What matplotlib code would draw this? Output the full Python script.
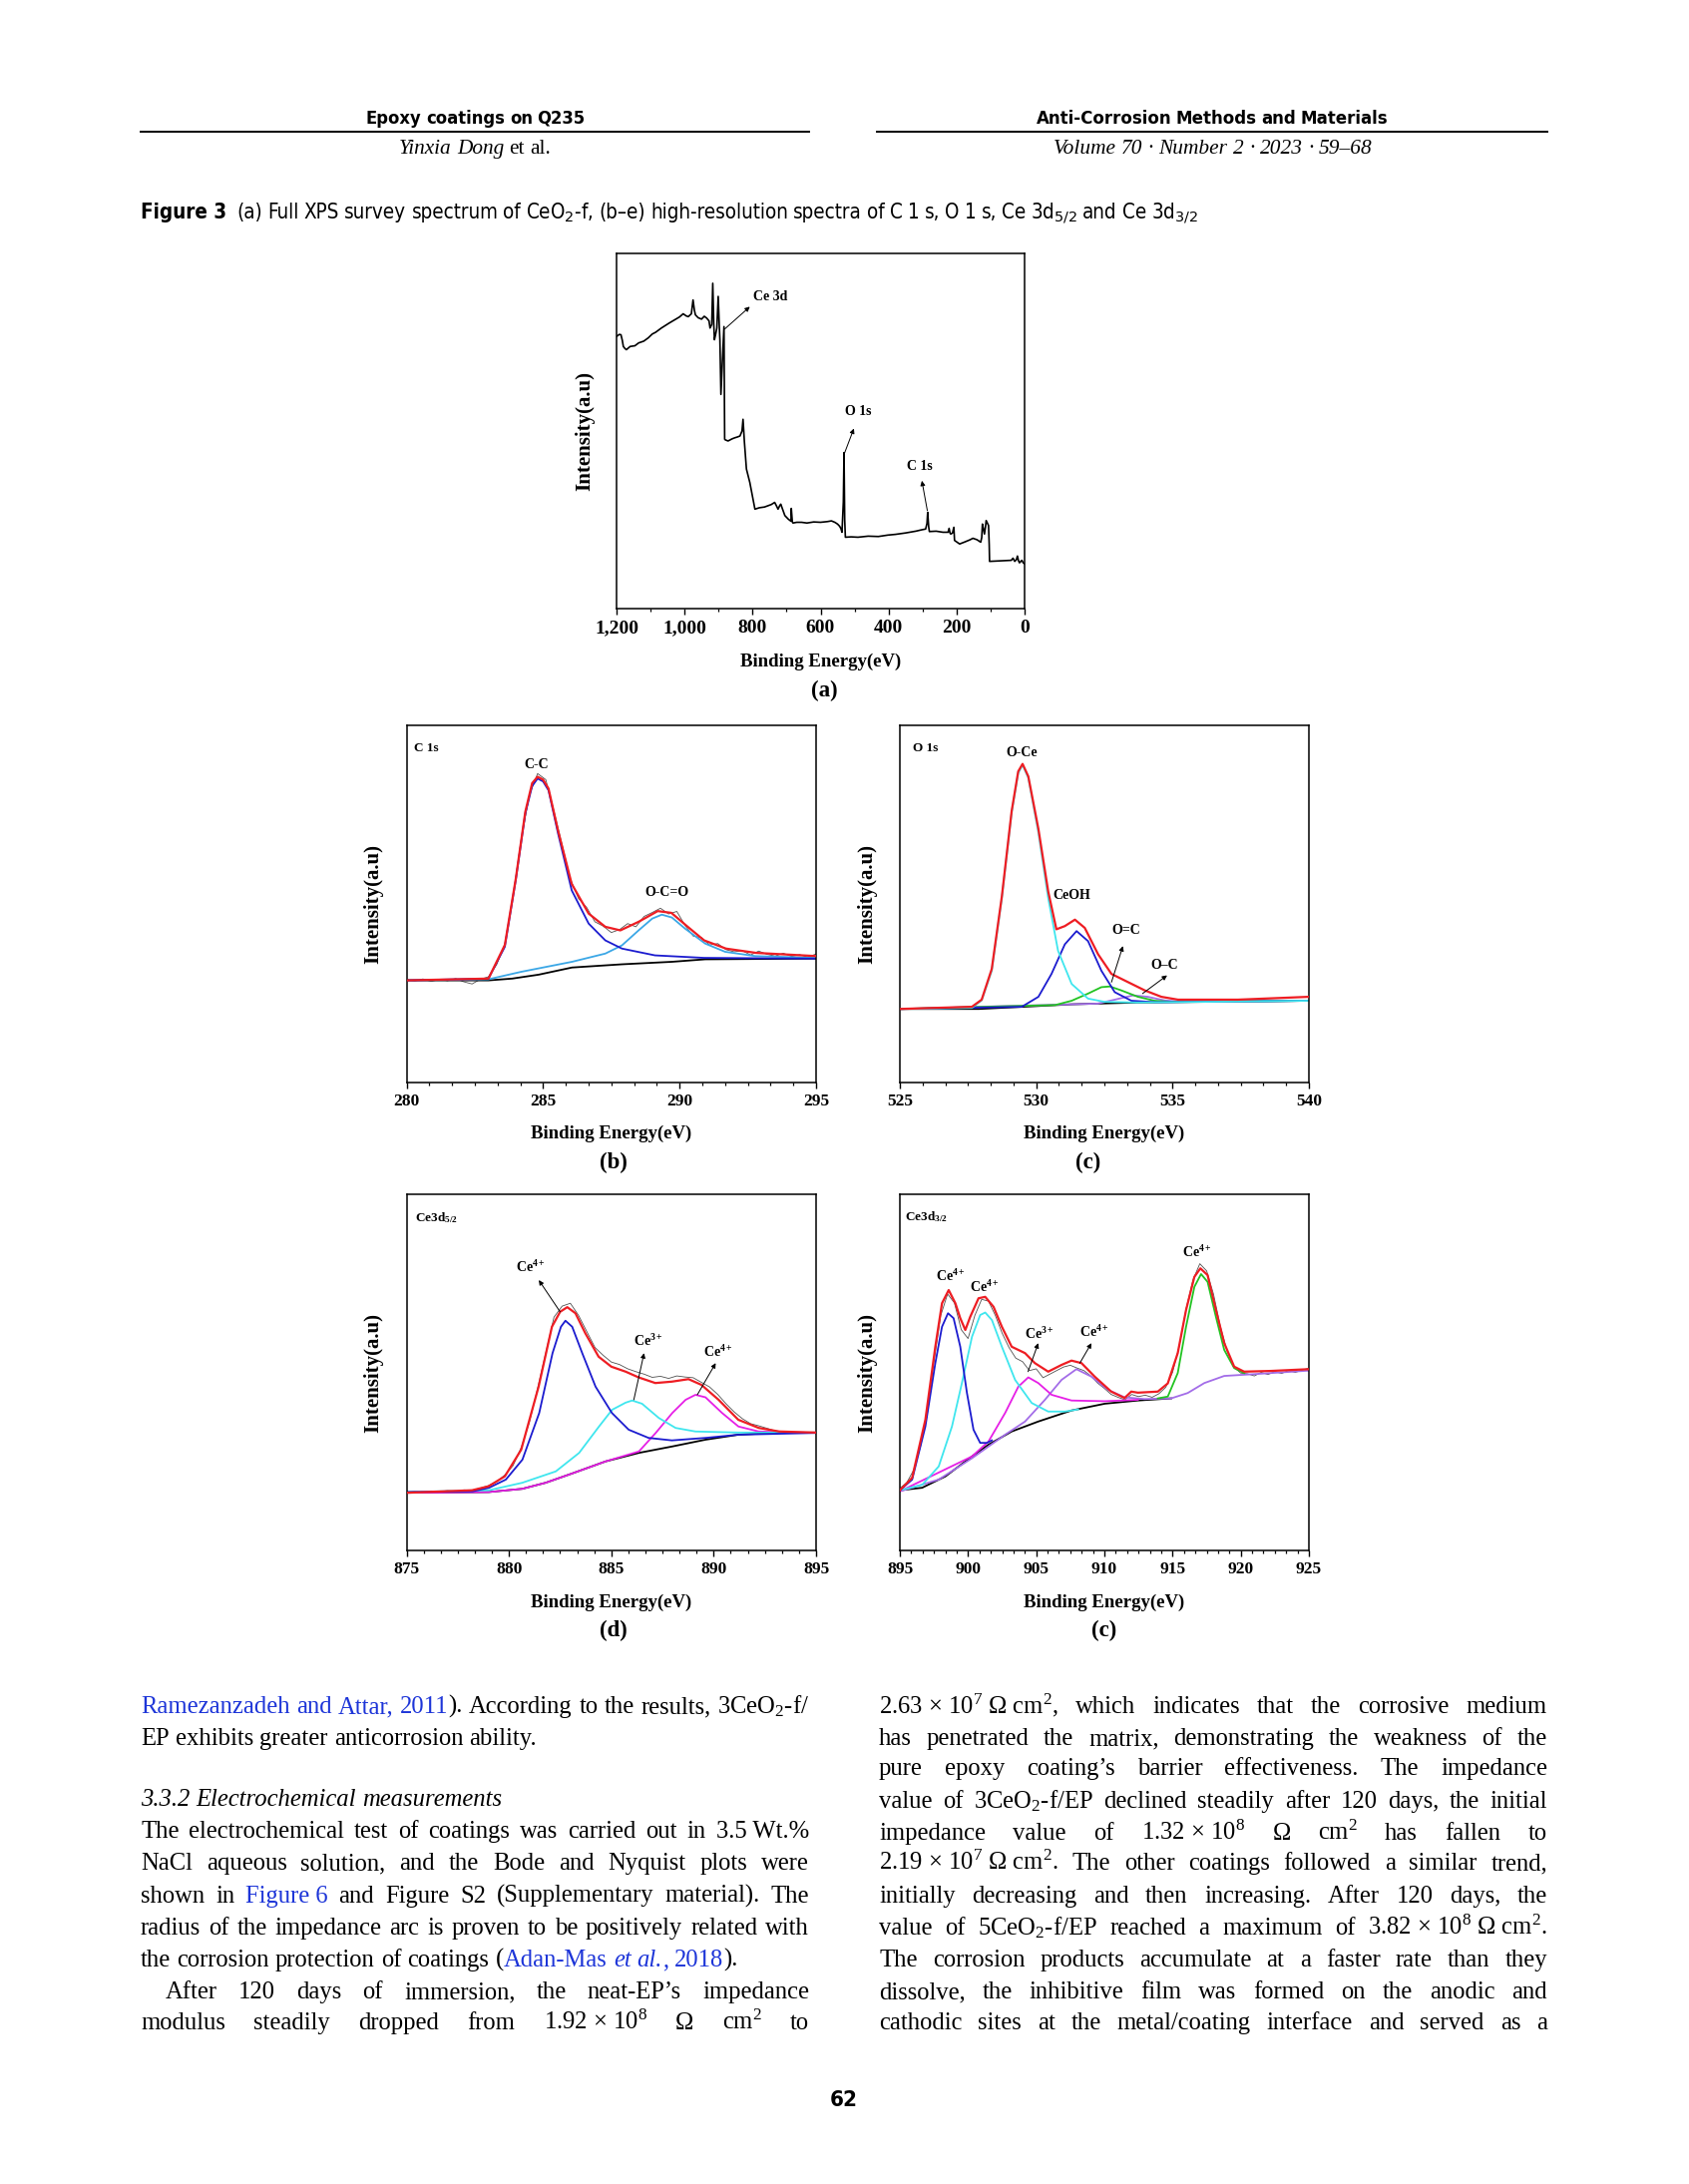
#!/usr/bin/env python
# coding: utf-8
# %%
import matplotlib
matplotlib.use("Agg")
import matplotlib.pyplot as plt
from matplotlib.lines import Line2D
from matplotlib.ticker import MultipleLocator, FuncFormatter

# %% data -- intensities in a.u. (0-100 = panel height), binding energy in eV
survey = [(1200, 76.6), (1192, 77.2), (1187, 77.1), (1183, 75.5), (1180, 73.8), (1175, 73.2), (1171, 72.9),
          (1160, 73.8), (1146, 74.0), (1135, 74.8), (1120, 75.3), (1107, 76.2), (1095, 77.3), (1085, 77.8),
          (1068, 79.0), (1055, 79.8), (1045, 80.4), (1029, 81.3), (1015, 82.1), (1004, 83.0), (995, 82.4),
          (989, 82.2), (980, 83.0), (975, 86.9), (971, 84.0), (968, 82.7), (960, 81.9), (950, 81.5),
          (942, 82.3), (935, 81.8), (928, 81.0), (925, 79.0), (920, 80.0), (917, 91.6), (914, 80.0),
          (912, 75.7), (908, 77.5), (905, 79.0), (901, 87.9), (898, 80.0), (896, 75.7), (893, 60.3),
          (889, 69.2), (886, 75.0), (884, 79.4), (882, 47.7), (880, 47.5), (872, 47.2), (860, 47.8),
          (852, 48.1), (845, 48.3), (837, 48.6), (831, 50.0), (828, 53.3), (824, 47.0), (818, 39.3),
          (812, 37.0), (808, 35.5), (800, 31.5), (793, 28.0), (780, 28.4), (765, 28.6), (754, 29.0),
          (745, 29.3), (735, 29.9), (730, 29.0), (725, 28.0), (720, 29.0), (717, 29.4), (710, 27.5),
          (705, 26.2), (695, 25.2), (690, 24.8), (687, 24.6), (686, 28.2), (683, 24.4), (681, 24.1),
          (670, 24.3), (656, 24.3), (640, 24.1), (620, 24.4), (600, 24.3), (580, 24.5), (568, 24.7),
          (558, 24.3), (550, 23.8), (544, 23.2), (540, 22.5), (537, 21.5), (533, 30.0), (531, 43.9),
          (529, 25.0), (527, 20.1), (510, 20.2), (490, 20.1), (460, 20.4), (430, 20.3), (402, 20.7),
          (380, 20.9), (350, 21.3), (320, 21.8), (302, 22.2), (291, 22.4), (287, 24.0), (285, 27.1),
          (282, 23.0), (280, 21.7), (260, 21.8), (240, 21.5), (225, 21.5), (222, 22.6), (219, 21.2),
          (217, 21.0), (212, 21.3), (208, 22.9), (206, 19.2), (200, 18.8), (191, 18.2), (175, 18.8),
          (160, 19.4), (152, 19.8), (140, 19.4), (129, 18.7), (126, 20.0), (124, 23.8), (121, 22.5),
          (118, 21.0), (115, 23.0), (113, 24.8), (109, 24.0), (106, 23.4), (104, 18.0), (103, 13.3),
          (80, 13.4), (60, 13.5), (39, 13.6), (34, 14.2), (29, 13.3), (24, 13.8), (21, 14.8),
          (18, 13.5), (15, 12.9), (8, 13.6), (4, 12.9), (0, 12.6)]

# C 1s
c1s_raw_x = [280.0 + 0.3 * i for i in range(51)]
c1s_raw_y = [28.8, 28.4, 29.0, 28.3, 28.9, 28.5, 29.1, 28.2, 27.6, 28.9, 29.6, 33.0, 38.8, 52.0, 68.0,
             80.5, 86.5, 84.8, 76.0, 66.5, 57.0, 51.5, 49.0, 45.0, 43.8, 42.0, 42.8, 44.5, 43.6, 46.5,
             47.6, 48.8, 47.2, 47.9, 44.0, 41.0, 40.6, 38.5, 38.9, 37.2, 36.6, 36.9, 35.7, 36.8, 35.9,
             35.4, 36.2, 35.3, 35.8, 35.1, 36.0]
c1s_bg = [(280.0, 28.6), (283.0, 28.6), (283.87, 29.1), (284.84, 30.2), (286.06, 32.2), (287.89, 33.1),
          (289.72, 33.8), (290.94, 34.5), (295.0, 34.7)]
c1s_cc = [(280.0, 28.6), (283.0, 29.1), (283.6, 38.0), (284.0, 56.6), (284.35, 75.3), (284.6, 83.0),
          (284.8, 85.1), (285.0, 84.3), (285.2, 81.8), (285.55, 69.7), (286.05, 53.8), (286.67, 44.5),
          (287.28, 39.8), (287.89, 37.5), (289.1, 35.6), (290.9, 34.9), (295.0, 34.7)]
c1s_oco = [(280.0, 28.6), (283.0, 28.9), (284.2, 31.0), (286.06, 33.8), (287.28, 36.1), (287.89, 38.4),
           (288.5, 42.6), (289.0, 45.9), (289.35, 47.0), (289.72, 46.2), (290.2, 43.1), (290.94, 38.9),
           (291.67, 36.6), (292.77, 35.4), (295.0, 34.9)]
c1s_fit = [(280.0, 28.6), (283.0, 29.1), (283.6, 38.5), (284.0, 57.0), (284.35, 75.8), (284.6, 83.8),
           (284.8, 85.6), (285.0, 84.8), (285.2, 82.3), (285.55, 70.5), (286.05, 55.6), (286.67, 47.3),
           (287.28, 43.6), (287.83, 42.6), (288.5, 45.0), (289.2, 48.0), (289.7, 47.5), (290.3, 43.6),
           (290.9, 39.8), (291.7, 37.5), (292.8, 36.3), (295.0, 35.4)]

# O 1s
o1s_bg = [(525.0, 20.6), (527.9, 20.6), (529.5, 21.2), (531.3, 21.9), (533.7, 22.4), (540.0, 22.9)]
o1s_oce = [(525.0, 20.6), (527.64, 20.9), (528.0, 23.0), (528.37, 31.3), (528.74, 51.6), (529.1, 75.6),
           (529.34, 86.6), (529.5, 88.9), (529.71, 85.3), (530.08, 70.0), (530.44, 51.6), (530.8, 36.9),
           (531.3, 27.6), (531.9, 23.5), (532.5, 22.6), (533.7, 22.4), (540.0, 22.9)]
o1s_ceoh = [(525.0, 20.6), (529.47, 21.2), (530.08, 24.0), (530.56, 30.4), (531.05, 38.7), (531.48, 42.4),
            (531.9, 39.6), (532.39, 31.3), (532.88, 25.3), (533.49, 22.9), (534.34, 22.5), (540.0, 22.9)]
o1s_oc2 = [(525.0, 20.6), (530.7, 21.7), (531.3, 22.9), (531.9, 24.9), (532.39, 26.7), (532.7, 26.9),
           (533.12, 25.8), (533.73, 24.0), (534.34, 22.9), (534.95, 22.6), (540.0, 22.9)]
o1s_oc1 = [(525.0, 20.6), (532.26, 22.1), (532.88, 23.2), (533.55, 24.4), (534.09, 24.0), (534.7, 23.0),
           (535.31, 22.6), (540.0, 22.9)]
o1s_fit = [(525.0, 20.6), (527.64, 21.2), (528.0, 23.2), (528.37, 31.8), (528.74, 52.1), (529.1, 76.0),
           (529.34, 87.1), (529.5, 89.2), (529.71, 85.7), (530.08, 71.0), (530.44, 53.5), (530.74, 42.9),
           (531.05, 43.8), (531.42, 45.6), (531.78, 43.3), (532.27, 35.9), (532.76, 30.4), (533.37, 28.1),
           (533.98, 25.8), (534.59, 24.0), (535.2, 23.2), (537.4, 23.2), (540.0, 24.0)]

# Ce 3d5/2
ce52_raw_x = [875.0 + 0.4 * i for i in range(51)]
ce52_raw_y = [16.4, 16.6, 16.3, 16.7, 16.5, 16.8, 16.6, 17.0, 16.9, 17.5, 18.2, 19.3, 21.2, 23.8, 28.9,
              36.0, 45.5, 55.5, 65.5, 68.6, 69.4, 66.0, 61.5, 57.0, 54.8, 52.9, 52.2, 51.0, 50.2, 49.5,
              48.6, 48.9, 48.3, 49.0, 48.7, 48.5, 47.2, 45.9, 43.8, 41.2, 38.9, 37.0, 35.6, 35.0, 34.3,
              33.6, 33.3, 33.2, 33.1, 33.2, 33.1]
ce52_bg = [(875.0, 16.2), (879.02, 16.4), (880.65, 17.3), (881.79, 19.0), (883.08, 21.6), (884.72, 25.0),
           (886.35, 27.4), (887.98, 29.2), (889.6, 31.1), (891.21, 32.5), (892.85, 33.0), (895.0, 33.1)]
ce52_p1 = [(875.0, 16.4), (878.23, 16.6), (879.03, 17.6), (879.85, 19.9), (880.66, 25.5), (881.48, 38.6),
           (882.13, 55.4), (882.54, 62.8), (882.76, 64.5), (883.09, 62.8), (883.58, 55.4), (884.23, 46.0),
           (885.03, 38.6), (885.85, 33.9), (886.82, 31.6), (887.96, 30.9), (889.6, 31.6), (891.2, 32.5),
           (895.0, 33.0)]
ce52_p2 = [(875.0, 16.4), (879.02, 16.9), (880.65, 19.0), (882.29, 22.2), (883.43, 27.4), (884.4, 34.8),
           (885.04, 39.5), (885.7, 41.5), (886.02, 42.1), (886.5, 41.2), (887.32, 37.2), (888.14, 34.4),
           (889.11, 33.4), (891.21, 33.1), (895.0, 33.1)]
ce52_p3 = [(875.0, 16.2), (879.02, 16.4), (880.65, 17.3), (881.79, 19.0), (883.08, 21.6), (884.72, 25.0),
           (886.35, 27.8), (887.17, 33.0), (887.98, 38.6), (888.63, 42.3), (889.11, 43.7), (889.6, 43.0),
           (890.41, 38.6), (891.21, 34.8), (892.2, 33.4), (895.0, 33.0)]
ce52_fit = [(875.0, 16.2), (878.2, 16.9), (879.0, 18.0), (879.8, 20.8), (880.6, 28.3), (881.45, 46.0),
            (882.1, 62.8), (882.5, 67.0), (882.85, 68.3), (883.25, 66.6), (883.73, 61.0), (884.38, 54.4),
            (885.0, 51.6), (885.7, 50.2), (886.33, 48.6), (887.15, 47.0), (887.96, 47.4), (888.77, 48.1),
            (889.4, 46.5), (890.24, 42.3), (891.2, 36.7), (892.2, 34.4), (893.2, 33.4), (895.0, 33.1)]

# Ce 3d3/2
ce32_raw_x = [895.0 + 0.5 * i for i in range(61)]
ce32_raw_y = [17.5, 19.0, 22.5, 29.0, 38.0, 53.0, 66.0, 72.0, 69.5, 62.0, 59.5, 66.0, 70.5, 70.0, 66.0,
              61.0, 57.0, 54.0, 53.0, 50.5, 51.0, 48.5, 49.5, 50.5, 51.5, 52.0, 51.2, 50.5, 49.0, 47.0,
              45.5, 43.8, 43.0, 42.3, 43.8, 43.2, 43.6, 43.0, 44.0, 45.8, 50.0, 57.5, 68.0, 76.0, 80.5,
              78.5, 72.0, 63.0, 56.0, 51.5, 49.8, 49.6, 49.0, 50.0, 49.4, 50.2, 49.7, 50.5, 50.0, 50.6, 51.2]
ce32_bg = [(895.0, 16.9), (896.63, 17.6), (898.34, 20.8), (900.29, 26.4), (901.5, 29.7), (903.2, 33.4),
           (905.15, 36.2), (907.59, 39.3), (910.03, 41.2), (912.46, 42.1), (914.9, 42.7)]
ce32_p1 = [(895.0, 16.9), (895.9, 19.9), (896.87, 34.8), (897.6, 52.6), (898.09, 62.8), (898.53, 66.6),
           (898.94, 65.2), (899.43, 57.2), (899.92, 44.2), (900.4, 33.9), (900.89, 30.2), (901.38, 30.2),
           (901.75, 30.9)]
ce32_p2 = [(895.0, 16.9), (896.63, 18.4), (897.85, 23.6), (898.82, 34.8), (899.55, 47.0), (900.29, 60.0),
           (900.89, 66.1), (901.26, 66.8), (901.75, 64.7), (902.48, 57.2), (903.45, 47.9), (904.67, 41.4),
           (905.88, 39.0), (907.1, 39.0), (908.08, 39.6)]
ce32_p3 = [(895.0, 16.6), (900.29, 26.4), (901.5, 30.6), (902.72, 38.6), (903.69, 46.0), (904.42, 48.6),
           (905.15, 47.0), (906.13, 43.7), (907.59, 42.1), (910.03, 41.9), (912.46, 42.3)]
ce32_p4 = [(895.0, 16.6), (897.85, 19.9), (900.29, 25.9), (902.72, 32.5), (904.18, 36.2), (905.64, 42.3),
           (906.86, 47.9), (907.95, 50.9), (909.05, 48.8), (910.27, 45.1), (911.48, 43.0), (912.95, 42.5),
           (914.9, 42.7), (916.11, 44.2), (917.33, 47.0), (918.79, 49.0), (920.98, 49.5), (925.0, 50.5)]
ce32_p5 = [(913.92, 42.7), (914.65, 43.2), (915.38, 49.8), (915.99, 62.8), (916.6, 74.0), (917.09, 77.6),
           (917.57, 75.4), (918.18, 65.6), (918.79, 56.3), (919.52, 51.2), (920.25, 49.8)]
ce32_fit = [(895.0, 16.9), (895.9, 20.4), (896.87, 36.7), (897.6, 57.2), (898.09, 69.4), (898.58, 73.1),
            (899.07, 69.4), (899.43, 65.2), (899.8, 61.9), (900.16, 65.6), (900.77, 70.8), (901.26, 71.2),
            (901.87, 68.4), (902.48, 62.8), (903.2, 57.2), (904.18, 55.4), (904.9, 52.6), (905.88, 50.2),
            (906.86, 52.1), (907.59, 53.3), (908.32, 52.6), (909.29, 48.8), (910.5, 44.6), (911.48, 42.8),
            (911.97, 44.6), (912.46, 44.3), (913.92, 44.6), (914.65, 46.9), (915.38, 55.4), (915.99, 67.5),
            (916.6, 76.8), (917.04, 79.2), (917.57, 77.3), (918.18, 67.5), (918.79, 58.2), (919.52, 51.6),
            (920.25, 50.2), (922.2, 50.4), (925.0, 50.9)]

# page text ( <..> = link blue, *..* = italic, #..# = bold, ~ = fixed space )
left_col = [("<Ramezanzadeh and Attar, 2011>). According to the results, 3CeO$_2$-f/", 1710, True, 0),
            ("EP exhibits greater anticorrosion ability.", 1742, False, 0),
            ("*3.3.2 Electrochemical measurements*", 1803, False, 0),
            ("The electrochemical test of coatings was carried out in 3.5~Wt.%", 1835, True, 0),
            ("NaCl aqueous solution, and the Bode and Nyquist plots were", 1867, True, 0),
            ("shown in <Figure~6> and Figure S2 (Supplementary material). The", 1900, True, 0),
            ("radius of the impedance arc is proven to be positively related with", 1932, True, 0),
            ("the corrosion protection of coatings (<Adan-Mas *et al.*, 2018>).", 1964, False, 0),
            ("After 120 days of immersion, the neat-EP’s impedance", 1996, True, 25),
            ("modulus steadily dropped from 1.92~×~10$^8$ Ω cm$^2$ to", 2027, True, 0)]
right_col = [("2.63~×~10$^7$~Ω~cm$^2$, which indicates that the corrosive medium", 1710, True, 0),
             ("has penetrated the matrix, demonstrating the weakness of the", 1742, True, 0),
             ("pure epoxy coating’s barrier effectiveness. The impedance", 1772, True, 0),
             ("value of 3CeO$_2$-f/EP declined steadily after 120 days, the initial", 1805, True, 0),
             ("impedance value of 1.32~×~10$^8$ Ω cm$^2$ has fallen to", 1837, True, 0),
             ("2.19~×~10$^7$~Ω~cm$^2$. The other coatings followed a similar trend,", 1867, True, 0),
             ("initially decreasing and then increasing. After 120 days, the", 1900, True, 0),
             ("value of 5CeO$_2$-f/EP reached a maximum of 3.82~×~10$^8$~Ω~cm$^2$.", 1932, True, 0),
             ("The corrosion products accumulate at a faster rate than they", 1964, True, 0),
             ("dissolve, the inhibitive film was formed on the anodic and", 1996, True, 0),
             ("cathodic sites at the metal/coating interface and served as a", 2027, True, 0)]

# %% page setup
W, H = 1693, 2189
SERIF = ["Liberation Serif", "DejaVu Serif"]
SANS = ["DejaVu Sans"]
BLUE = "#1d35d8"
plt.rcParams["mathtext.fontset"] = "custom"
plt.rcParams["mathtext.rm"] = "Liberation Serif"
plt.rcParams["mathtext.it"] = "Liberation Serif:italic"
plt.rcParams["mathtext.bf"] = "Liberation Serif:bold"
plt.rcParams["mathtext.sf"] = "DejaVu Sans"
plt.rcParams["font.family"] = SERIF

fig = plt.figure(figsize=(W / 100, H / 100), dpi=100)
fig.patch.set_facecolor("white")
R = fig.canvas.get_renderer()


def fx(x):
    return x / W


def fy(y):
    return 1 - y / H


def parse(line):
    words = []
    blue = ital = bold = False
    for raw in line.split(" "):
        pieces, buf = [], ""
        for ch in raw:
            if ch in "<>*#":
                if buf:
                    pieces.append((buf.replace("~", " "), blue, ital, bold))
                    buf = ""
                if ch == "<":
                    blue = True
                elif ch == ">":
                    blue = False
                elif ch == "*":
                    ital = not ital
                else:
                    bold = not bold
            else:
                buf += ch
        if buf:
            pieces.append((buf.replace("~", " "), blue, ital, bold))
        words.append(pieces)
    return words


def build(line, y, family, stretch="normal"):
    out = []
    for pieces in parse(line):
        ts = []
        for s, blue, ital, bold in pieces:
            ts.append(fig.text(0, fy(y), s, color=BLUE if blue else "black",
                               style="italic" if ital else "normal",
                               weight="bold" if bold else "normal", fontstretch=stretch,
                               family=family, fontsize=20, va="baseline", ha="left"))
        out.append(ts)
    return out


def natural(words, size):
    for ts in words:
        for t in ts:
            t.set_fontsize(size)
    tot = sum(t.get_window_extent(R).width for ts in words for t in ts)
    return tot + (len(words) - 1) * size * 100 / 72 * 0.25


def place(words, x0, size, x1=None):
    for ts in words:
        for t in ts:
            t.set_fontsize(size)
    ws = [[t.get_window_extent(R).width for t in ts] for ts in words]
    tot = sum(sum(w) for w in ws)
    gap = size * 100 / 72 * 0.25
    if x1 is not None and len(words) > 1:
        gap = (x1 - x0 - tot) / (len(words) - 1)
    x = x0
    for ts, w in zip(words, ws):
        xx = x
        for t, wi in zip(ts, w):
            t.set_x(fx(xx))
            xx += wi
        x += sum(w) + gap


def fitted(line, y, family, width, stretch="normal"):
    words = build(line, y, family, stretch)
    size = 20 * width / natural(words, 20)
    return words, size


# %% header
for txt, cx, y, width, fam, st in [("#Epoxy coatings on Q235#", 477, 124, 220, SANS, "condensed"),
                                   ("#Anti-Corrosion Methods and Materials#", 1215, 124, 353, SANS, "condensed"),
                                   ("*Yinxia Dong* et al.", 476, 154, 152, SERIF, "normal"),
                                   ("*Volume 70 · Number 2 · 2023 · 59–68*", 1215, 154, 319, SERIF, "normal")]:
    words, size = fitted(txt, y, fam, width, st)
    place(words, cx - width / 2, size)
for xa, xb in [(141, 811), (879, 1551)]:
    fig.add_artist(Line2D([fx(xa), fx(xb)], [fy(132), fy(132)], color="black", lw=1.4))

cap = ("#Figure~3#  (a) Full XPS survey spectrum of CeO$_\\mathsf{2}$-f, (b–e) high-resolution spectra of "
       "C 1 s, O 1 s, Ce 3d$_\\mathsf{5/2}$ and Ce 3d$_\\mathsf{3/2}$")
words, size = fitted(cap, 219, SANS, 1062, "condensed")
place(words, 141, size)

# %% body text, font size set by the tightest justified line
cols = []
for lines, x0, x1 in [(left_col, 141, 811), (right_col, 881, 1551)]:
    for txt, y, just, ind in lines:
        cols.append((build(txt, y + 7, SERIF), x0 + ind, x1, just))
body_size = min(20 * (x1 - x0) / natural(w, 20) for w, x0, x1, j in cols if j) * 0.995
for w, x0, x1, j in cols:
    place(w, x0, body_size, x1 if j else None)

fig.text(fx(846), fy(2105), "62", family=SANS, fontstretch="condensed", weight="bold",
         fontsize=16, ha="center", va="center")


# %% panels
def add_ax(l, t, r, b):
    return fig.add_axes([fx(l), fy(b), (r - l) / W, (b - t) / H])


def style(ax, lo, hi, major, minor, fmt=None, size=12.5):
    ax.set_xlim(lo, hi)
    ax.set_ylim(0, 100)
    ax.set_yticks([])
    ax.xaxis.set_major_locator(MultipleLocator(major))
    ax.xaxis.set_minor_locator(MultipleLocator(minor))
    if fmt:
        ax.xaxis.set_major_formatter(FuncFormatter(fmt))
    ax.tick_params(axis="x", which="major", direction="out", length=4, width=1.0, pad=4, labelsize=size)
    ax.tick_params(axis="x", which="minor", direction="out", length=2.5, width=0.9)
    for lab in ax.get_xticklabels():
        lab.set_fontweight("bold")
    for sp in ax.spines.values():
        sp.set_linewidth(1.1)


def texts(xl_y, yl_x, ax_box, letter, letter_x, letter_y):
    l, t, r, b = ax_box
    fig.text(fx((l + r) / 2), fy(xl_y), "Binding Energy(eV)", weight="bold", fontsize=13.5,
             ha="center", va="center")
    fig.text(fx(yl_x), fy((t + b) / 2), "Intensity(a.u)", weight="bold", fontsize=15,
             ha="center", va="center", rotation=90)
    fig.text(fx(letter_x), fy(letter_y), letter, weight="bold", fontsize=16.5, ha="center", va="center")


def curve(ax, pts, color, lw=1.3, z=2):
    xs, ys = zip(*pts)
    ax.plot(xs, ys, color=color, lw=lw, zorder=z)


def arrow(ax, tail, head):
    ax.annotate("", xy=head, xytext=tail,
                arrowprops=dict(arrowstyle="-|>", color="black", lw=0.7, mutation_scale=7,
                                shrinkA=0, shrinkB=0))


def label(ax, x, y, s, size=10, ha="center"):
    ax.text(x, y, s, fontsize=size, weight="bold", ha=ha, va="center")


RED, BLUEL, LBLUE, CYAN = "#ee1d23", "#1b1bcf", "#3ba7e6", "#3fe6ee"
GREEN, MAG, PURP, RAW = "#22c322", "#e61fe6", "#a36de8", "#505050"

# (a) survey
box_a = (618, 254, 1027, 610)
ax = add_ax(*box_a)
style(ax, 1200, 0, 200, 100, lambda v, p: f"{v:,.0f}", size=14)
curve(ax, survey, "black", lw=1.2)
label(ax, 798, 87.7, "Ce 3d", ha="left")
arrow(ax, (882, 78.7), (808, 85.0))
label(ax, 490, 55.4, "O 1s")
arrow(ax, (529, 43.9), (502, 50.7))
label(ax, 309, 40.0, "C 1s")
arrow(ax, (286, 27.6), (302, 36.0))
texts(663, 586, box_a, "(a)", 826, 692)

# (b) C 1s
box_b = (407.5, 727, 818, 1085)
ax = add_ax(*box_b)
style(ax, 280, 295, 5, 5 / 6)
ax.plot(c1s_raw_x, c1s_raw_y, color=RAW, lw=0.6, zorder=1)
curve(ax, c1s_bg, "black")
curve(ax, c1s_oco, LBLUE)
curve(ax, c1s_cc, BLUEL)
curve(ax, c1s_fit, RED, lw=1.6, z=3)
label(ax, 280.27, 93.5, "C 1s", size=9.5, ha="left")
label(ax, 284.74, 89.1, "C-C")
label(ax, 289.54, 53.1, "O-C=O")
texts(1136, 374, box_b, "(b)", 615, 1165)

# (c) O 1s
box_c = (902, 727, 1312, 1085)
ax = add_ax(*box_c)
style(ax, 525, 540, 5, 5 / 6)
curve(ax, o1s_bg, "black")
curve(ax, o1s_oc1, PURP)
curve(ax, o1s_oc2, GREEN)
curve(ax, o1s_ceoh, BLUEL)
curve(ax, o1s_oce, CYAN)
curve(ax, o1s_fit, RED, lw=1.6, z=3)
label(ax, 525.47, 93.5, "O 1s", size=9.5, ha="left")
label(ax, 529.47, 92.2, "O-Ce")
label(ax, 531.3, 52.4, "CeOH")
label(ax, 533.3, 42.7, "O=C")
arrow(ax, (532.76, 28.1), (533.18, 38.2))
label(ax, 534.7, 32.7, "O–C")
arrow(ax, (533.9, 24.9), (534.8, 30.0))
texts(1136, 869, box_c, "(c)", 1091, 1165)

# (d) Ce 3d5/2
box_d = (407.5, 1197, 818, 1554)
ax = add_ax(*box_d)
style(ax, 875, 895, 5, 5 / 6)
ax.plot(ce52_raw_x, ce52_raw_y, color=RAW, lw=0.6, zorder=1)
curve(ax, ce52_bg, "black")
curve(ax, ce52_p3, MAG)
curve(ax, ce52_p2, CYAN)
curve(ax, ce52_p1, BLUEL)
curve(ax, ce52_fit, RED, lw=1.6, z=3)
label(ax, 875.4, 93.5, r"Ce3d$_{\mathbf{5/2}}$", size=9.5, ha="left")
label(ax, 881.05, 79.6, r"Ce$^{\mathbf{4+}}$")
arrow(ax, (882.5, 67.0), (881.46, 75.9))
label(ax, 886.8, 58.9, r"Ce$^{\mathbf{3+}}$")
arrow(ax, (886.1, 42.3), (886.6, 55.4))
label(ax, 890.2, 55.8, r"Ce$^{\mathbf{4+}}$")
arrow(ax, (889.2, 43.7), (890.1, 52.6))
texts(1606, 374, box_d, "(d)", 615, 1634)

# (e) Ce 3d3/2
box_e = (902, 1197, 1312, 1554)
ax = add_ax(*box_e)
style(ax, 895, 925, 5, 5 / 6)
ax.plot(ce32_raw_x, ce32_raw_y, color=RAW, lw=0.6, zorder=1)
curve(ax, ce32_bg, "black")
curve(ax, ce32_p4, PURP)
curve(ax, ce32_p3, MAG)
curve(ax, ce32_p2, CYAN)
curve(ax, ce32_p1, BLUEL)
curve(ax, ce32_p5, GREEN)
curve(ax, ce32_fit, RED, lw=1.6, z=3)
label(ax, 895.4, 93.6, r"Ce3d$_{\mathbf{3/2}}$", size=9.5, ha="left")
label(ax, 898.7, 77.0, r"Ce$^{\mathbf{4+}}$")
label(ax, 901.2, 74.0, r"Ce$^{\mathbf{4+}}$")
label(ax, 905.2, 60.7, r"Ce$^{\mathbf{3+}}$")
arrow(ax, (904.4, 50.2), (905.15, 58.2))
label(ax, 909.25, 61.3, r"Ce$^{\mathbf{4+}}$")
arrow(ax, (908.2, 52.6), (909.05, 58.2))
label(ax, 916.8, 83.7, r"Ce$^{\mathbf{4+}}$")
texts(1606, 869, box_e, "(c)", 1107, 1634)

fig.savefig("out.png", dpi=100, facecolor="white")
